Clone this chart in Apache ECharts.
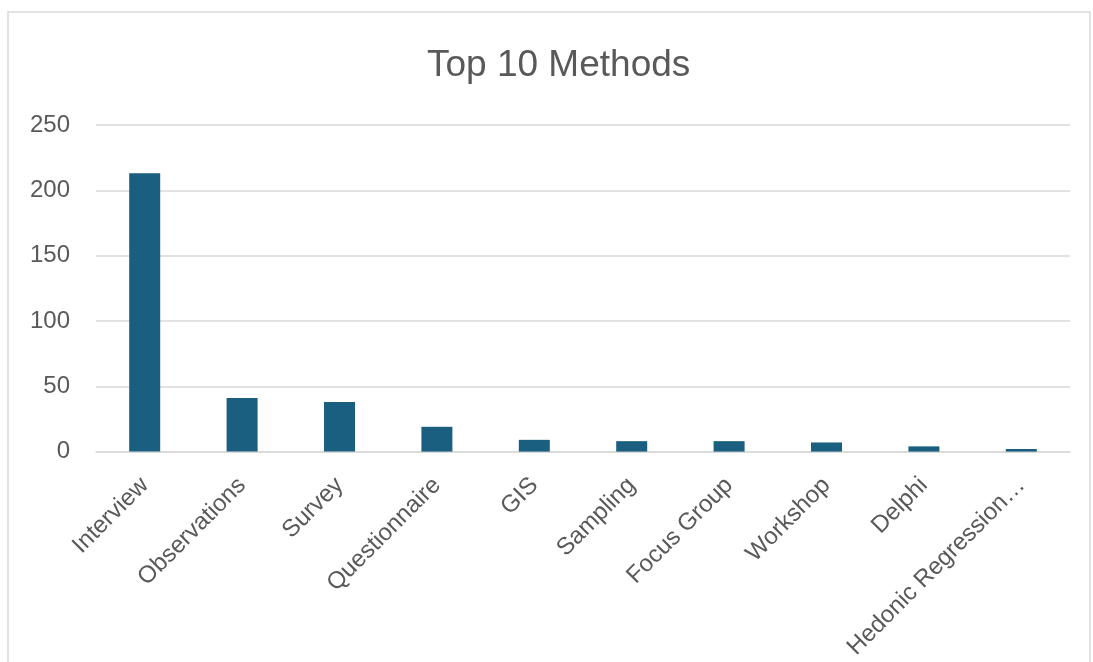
<!DOCTYPE html>
<html>
<head>
<meta charset="utf-8">
<script src="https://cdn.jsdelivr.net/npm/echarts@6/dist/echarts.min.js"></script>
<style>
  html, body { margin: 0; padding: 0; background: #ffffff; }
  #chart { width: 1093px; height: 662px; }
</style>
</head>
<body>
<div id="chart"></div>
<script>
// Method names and how often each appears
const categories = ['Interview', 'Observations', 'Survey', 'Questionnaire', 'GIS',
  'Sampling', 'Focus Group', 'Workshop', 'Delphi', 'Hedonic Regression…'];
const counts = [213, 41, 38, 19, 9, 8, 8, 7, 4, 2];
const yTicks = [0, 50, 100, 150, 200, 250];

const chart = echarts.init(document.getElementById('chart'), null, { renderer: 'canvas' });
const textColor = '#595959';
const gridColor = '#d9d9d9';
const font = '"Liberation Sans", Arial, sans-serif';

chart.setOption({
  animation: false,
  backgroundColor: '#ffffff',
  graphic: [{
    type: 'rect',
    shape: { x: 8, y: 12, width: 1082, height: 700 },
    style: { fill: 'none', stroke: gridColor, lineWidth: 1.5 },
    silent: true,
    z: -1
  }],
  title: {
    text: 'Top 10 Methods',
    left: 422,
    top: 42,
    textStyle: { color: textColor, fontSize: 37, fontWeight: 'normal', fontFamily: font }
  },
  grid: { left: 96, right: 23, top: 125, bottom: 207, containLabel: false },
  xAxis: {
    type: 'category',
    data: categories,
    axisLine: { show: true, lineStyle: { color: gridColor, width: 1.5 } },
    axisTick: { show: false },
    axisLabel: {
      rotate: 45,
      interval: 0,
      margin: 30,
      color: textColor,
      fontSize: 24,
      fontFamily: font
    }
  },
  yAxis: {
    type: 'value',
    min: yTicks[0],
    max: yTicks[yTicks.length - 1],
    interval: yTicks[1] - yTicks[0],
    axisLine: { show: false },
    axisTick: { show: false },
    splitLine: { lineStyle: { color: gridColor, width: 1.5 } },
    axisLabel: { color: textColor, fontSize: 24, fontFamily: font, margin: 26 }
  },
  series: [{
    type: 'bar',
    data: counts,
    barWidth: 31,
    itemStyle: { color: '#1a5f80' }
  }]
});
</script>
</body>
</html>
